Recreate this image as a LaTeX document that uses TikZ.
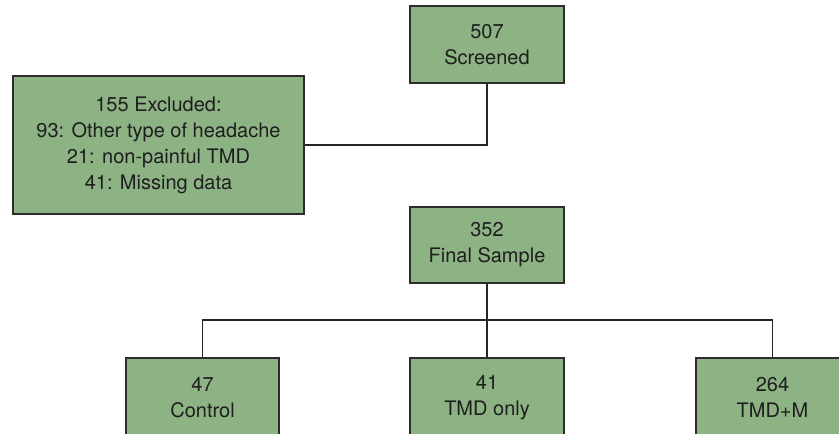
\documentclass[tikz,border=0pt]{standalone}
\usepackage{fontspec}
\setmainfont{TeX Gyre Heros}
\definecolor{boxfill}{RGB}{141,179,132}
\definecolor{boxline}{RGB}{45,45,45}
\definecolor{txt}{RGB}{30,30,30}
\tikzset{
  flowbox/.style={draw=boxline, line width=1.4pt, fill=boxfill, text=txt, align=center,
    inner sep=0pt, font=\fontsize{20}{26}\selectfont},
  link/.style={draw=black!85, line width=1.2pt}
}
\begin{document}
\begin{tikzpicture}[x=1pt,y=-1pt]
\useasboundingbox (0,0) rectangle (839,434);
\clip (0,0) rectangle (839,434);
\node[flowbox, minimum width=154pt, minimum height=77pt] (scr) at (487,44.5) {507\\Screened};
\node[flowbox, minimum width=291pt, minimum height=138pt] (exc) at (158.5,145) {155 Excluded:\\93: Other type of headache\\21: non-painful TMD\\41: Missing data};
\node[flowbox, minimum width=154pt, minimum height=76pt] (fin) at (487,245) {352\\Final Sample};
\node[flowbox, minimum width=153pt, minimum height=79pt] (ctl) at (202.5,397.5) {47\\Control};
\node[flowbox, minimum width=154pt, minimum height=79pt] (tmd) at (487,397.5) {41\\TMD only};
\node[flowbox, minimum width=153pt, minimum height=79pt] (tmm) at (772.5,397.5) {264\\TMD+M};
\coordinate (bus) at (487,320);
\draw[link] (scr.south) |- (exc.east);
\draw[link] (fin.south) -- (tmd.north);
\draw[link] (ctl.north) |- (bus) -| (tmm.north);
\end{tikzpicture}
\end{document}
